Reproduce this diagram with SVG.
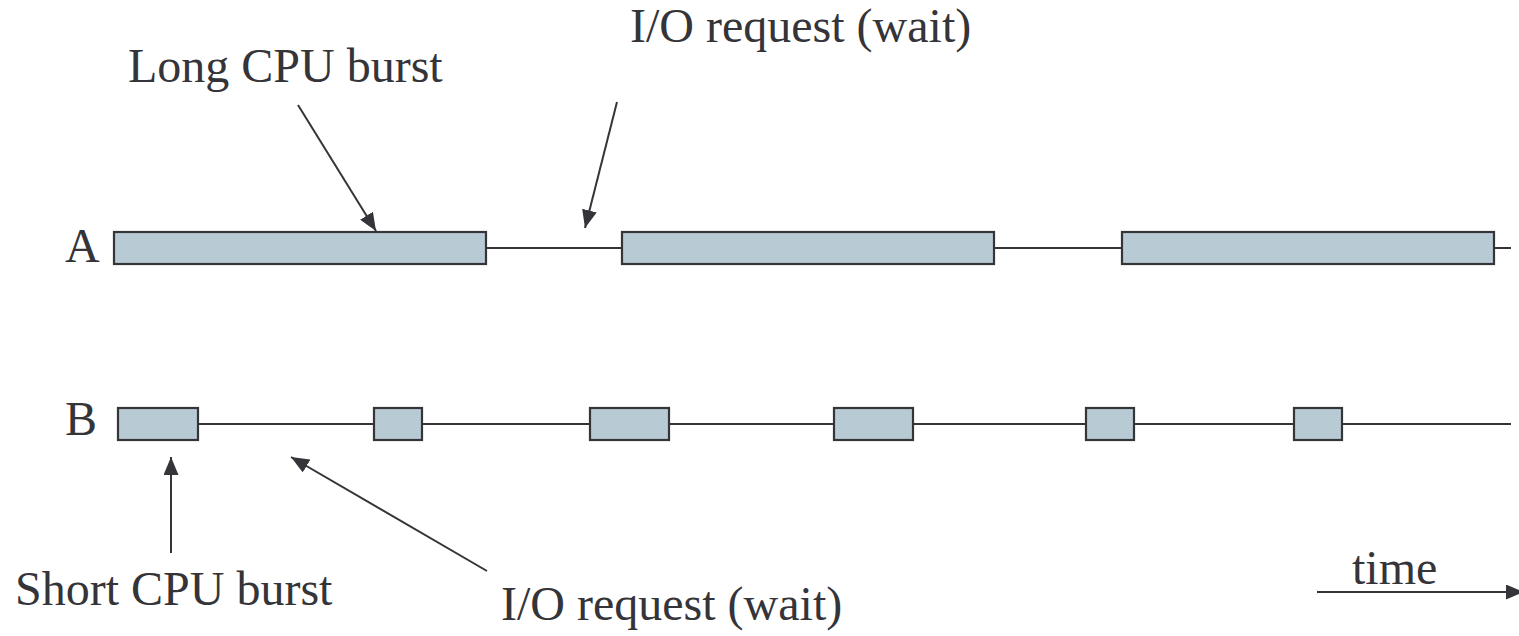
<svg xmlns="http://www.w3.org/2000/svg" width="1519" height="636" viewBox="0 0 1519 636">
<style>
.bar{fill:#b8cad3;stroke:#343439;stroke-width:2.2}
.ln{stroke:#343439;stroke-width:2;fill:none}
.t{font-family:'Liberation Serif',serif;font-size:48px;fill:#343439}
</style>
<defs>
<marker id="ah2" viewBox="0 0 10 10" refX="10" refY="5" markerWidth="18" markerHeight="15" markerUnits="userSpaceOnUse" orient="auto" preserveAspectRatio="none">
<path d="M0,0 L10,5 L0,10 z" fill="#343439"/>
</marker>
</defs>
<g id="timelines">
<line class="ln" x1="486" y1="248" x2="622" y2="248"/>
<line class="ln" x1="994" y1="248" x2="1122" y2="248"/>
<line class="ln" x1="1494" y1="248" x2="1511" y2="248"/>
<line class="ln" x1="198" y1="424" x2="1511" y2="424"/>
</g>
<g id="rowA">
<text class="t" x="65" y="262">A</text>
<rect class="bar" x="114" y="232" width="372" height="32"/>
<rect class="bar" x="622" y="232" width="372" height="32"/>
<rect class="bar" x="1122" y="232" width="372" height="32"/>
</g>
<g id="rowB">
<text class="t" x="65" y="435">B</text>
<rect class="bar" x="118" y="408" width="80" height="32"/>
<rect class="bar" x="374" y="408" width="48" height="32"/>
<rect class="bar" x="590" y="408" width="79" height="32"/>
<rect class="bar" x="834" y="408" width="79" height="32"/>
<rect class="bar" x="1086" y="408" width="48" height="32"/>
<rect class="bar" x="1294" y="408" width="48" height="32"/>
</g>
<g id="labels">
<text class="t" x="128" y="82">Long CPU burst</text>
<text class="t" x="630" y="42">I/O request (wait)</text>
<text class="t" x="15" y="605">Short CPU burst</text>
<text class="t" x="501" y="620">I/O request (wait)</text>
<text class="t" x="1352" y="584">time</text>
</g>
<g id="connectors">
<line class="ln" x1="298" y1="105" x2="376" y2="231" marker-end="url(#ah2)"/>
<line class="ln" x1="617" y1="102" x2="585" y2="228" marker-end="url(#ah2)"/>
<line class="ln" x1="171" y1="553" x2="171" y2="457" marker-end="url(#ah2)"/>
<line class="ln" x1="487" y1="571" x2="291" y2="457" marker-end="url(#ah2)"/>
<line class="ln" x1="1317" y1="592" x2="1524" y2="592" marker-end="url(#ah2)"/>
</g>
</svg>
